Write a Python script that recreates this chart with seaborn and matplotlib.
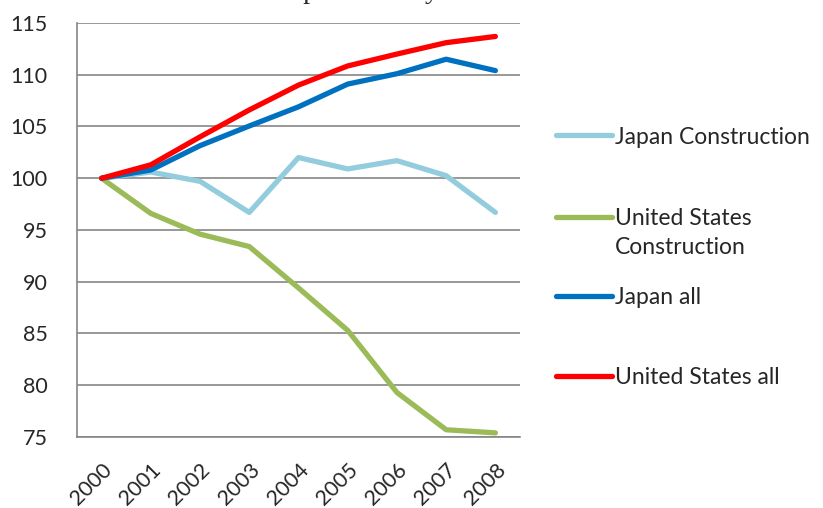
import numpy as np
import pandas as pd
import matplotlib
matplotlib.use("Agg")
import matplotlib.pyplot as plt
import seaborn as sns

# ---- data (index, 2000 = 100) ----
years = ['2000', '2001', '2002', '2003', '2004', '2005', '2006', '2007', '2008']
japan_construction = [100, 100.6, 99.7, 96.7, 102.0, 100.9, 101.7, 100.25, 96.7]
us_construction = [100, 96.6, 94.6, 93.4, 89.4, 85.3, 79.3, 75.7, 75.4]
japan_all = [100, 100.8, 103.15, 105.05, 106.9, 109.1, 110.1, 111.5, 110.4]
us_all = [100, 101.3, 104.0, 106.6, 109.0, 110.85, 112.0, 113.1, 113.7]

series_names = ['Japan Construction', 'United States\nConstruction', 'Japan all', 'United States all']
series_values = [japan_construction, us_construction, japan_all, us_all]
colors = ['#93CDDD', '#9BBB59', '#0070C0', '#FF0000']
y_ticks = [75, 80, 85, 90, 95, 100, 105, 110, 115]

rows = []
for name, vals in zip(series_names, series_values):
    for i, v in enumerate(vals):
        rows.append({'pos': i, 'year': years[i], 'series': name, 'value': v})
df = pd.DataFrame(rows)

sns.set_style("white")
plt.rcParams['font.family'] = ['Lato', 'DejaVu Sans']

fig = plt.figure(figsize=(8.23, 5.08), dpi=100)
W, H = 823, 508
ax = fig.add_axes([77 / W, 1 - 437 / H, (520 - 77) / W, (437 - 23) / H])

sns.lineplot(data=df, x='pos', y='value', hue='series', hue_order=series_names,
             palette=colors, linewidth=3.8, legend=False, ax=ax,
             solid_capstyle='round', solid_joinstyle='round')

grid_c = '#868686'
ax.set_ylim(75, 115)
ax.set_xlim(-0.5, len(years) - 0.5)
ax.set_yticks(y_ticks)
ax.set_yticklabels([str(t) for t in y_ticks], fontsize=15.5)
ax.yaxis.grid(True, color=grid_c, linewidth=1.2)
ax.set_axisbelow(True)

ax.set_xticks(range(len(years)))
ax.set_xticklabels(years, fontsize=15.5, rotation=45, ha='right', rotation_mode='anchor')
ax.set_xticks(np.arange(-0.5, len(years)), minor=True)
ax.tick_params(axis='x', which='major', length=0, pad=16)
ax.tick_params(axis='x', which='minor', length=5, width=1.2, color=grid_c, direction='out')
ax.tick_params(axis='y', length=6, width=1.2, color=grid_c, direction='out', pad=15)

ax.set_xlabel('')
ax.set_ylabel('')
for side in ['top', 'right']:
    ax.spines[side].set_visible(False)
for side in ['left', 'bottom']:
    ax.spines[side].set_color(grid_c)
    ax.spines[side].set_linewidth(1.2)

# title, mostly cut off by the top edge of the image
fig.text(0.406, 1 + 2 / H, 'Labor productivity', ha='center', va='baseline',
         fontsize=20, family='Liberation Serif')

# legend entries, one per series
legend_y = [137, 233, 298, 378]
lines = ax.get_lines()
for i, (name, yy) in enumerate(zip(series_names, legend_y)):
    leg = fig.legend(handles=[lines[i]], labels=[name], loc='center left',
                     bbox_to_anchor=(556 / W, 1 - yy / H), frameon=False,
                     fontsize=16.5, handlelength=2.45, handletextpad=0.12,
                     borderpad=0, borderaxespad=0)
    for t in leg.get_texts():
        t.set_linespacing(1.5)
    if '\n' in name:
        h = leg.legend_handles[0]
        h.set_ydata(np.array(h.get_ydata()) + 12)

fig.savefig('out.png', dpi=100)
